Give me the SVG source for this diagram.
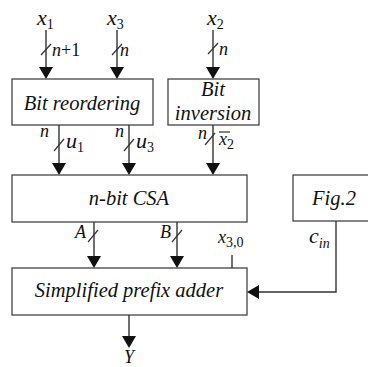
<svg xmlns="http://www.w3.org/2000/svg" xmlns:xlink="http://www.w3.org/1999/xlink" width="368" height="367" viewBox="0 0 368 367">
  <defs>
    <!-- downward arrowhead, tip at the origin -->
    <path id="ah" d="M-7,-12 L7,-12 L0,0 z" fill="#111111"/>
  </defs>
  <rect width="368" height="367" fill="#ffffff"/>

  <!-- blocks: white boxes with italic serif captions -->
  <g id="reorder">
    <rect x="12" y="79" width="141" height="46" fill="#ffffff" stroke="#444444" stroke-width="1.3"/>
    <text x="82" y="110" text-anchor="middle" font-family="Liberation Serif" font-style="italic" font-size="20.5" fill="#111111">Bit reordering</text>
  </g>
  <g id="inversion">
    <rect x="168" y="79" width="91" height="46" fill="#ffffff" stroke="#444444" stroke-width="1.3"/>
    <text x="213" y="96" text-anchor="middle" font-family="Liberation Serif" font-style="italic" font-size="20.5" fill="#111111">Bit</text>
    <text x="213" y="120" text-anchor="middle" font-family="Liberation Serif" font-style="italic" font-size="20.5" fill="#111111">inversion</text>
  </g>
  <g id="csa">
    <rect x="12" y="175" width="235" height="47" fill="#ffffff" stroke="#444444" stroke-width="1.3"/>
    <text x="129" y="205" text-anchor="middle" font-family="Liberation Serif" font-style="italic" font-size="20.5" fill="#111111">n-bit CSA</text>
  </g>
  <g id="fig2">
    <rect x="293" y="175" width="80" height="46" fill="#ffffff" stroke="#444444" stroke-width="1.3"/>
    <text x="334" y="205" text-anchor="middle" font-family="Liberation Serif" font-style="italic" font-size="20.5" fill="#111111">Fig.2</text>
  </g>
  <g id="adder">
    <rect x="12" y="268" width="235" height="47" fill="#ffffff" stroke="#444444" stroke-width="1.3"/>
    <text x="129" y="297" text-anchor="middle" font-family="Liberation Serif" font-style="italic" font-size="20.5" fill="#111111">Simplified prefix adder</text>
  </g>

  <!-- connectors -->
  <g id="connectors" fill="none" stroke="#333333" stroke-width="1.4">
    <!-- inputs -->
    <line x1="46" y1="30" x2="46" y2="70"/>
    <line x1="117" y1="30" x2="117" y2="70"/>
    <line x1="213" y1="30" x2="213" y2="70"/>
    <line x1="41" y1="55" x2="51" y2="44" stroke-width="1.2"/>
    <line x1="112" y1="55" x2="122" y2="44" stroke-width="1.2"/>
    <line x1="208" y1="54" x2="218" y2="43" stroke-width="1.2"/>

    <!-- into CSA -->
    <line x1="59" y1="125" x2="59" y2="166"/>
    <line x1="129" y1="125" x2="129" y2="166"/>
    <line x1="213" y1="125" x2="213" y2="166"/>
    <line x1="54" y1="151" x2="64" y2="139" stroke-width="1.2"/>
    <line x1="124" y1="151" x2="134" y2="139" stroke-width="1.2"/>
    <line x1="205" y1="145" x2="215" y2="133" stroke-width="1.2"/>

    <!-- into adder -->
    <line x1="94" y1="222" x2="94" y2="259"/>
    <line x1="177" y1="222" x2="177" y2="259"/>
    <line x1="88" y1="242" x2="98" y2="230" stroke-width="1.2"/>
    <line x1="172" y1="242" x2="182" y2="230" stroke-width="1.2"/>
    <line x1="232" y1="255" x2="232" y2="268"/>
    <polyline points="336,221 336,292 256,292"/>

    <!-- output -->
    <line x1="129" y1="315" x2="129" y2="339"/>

    <!-- arrowheads -->
    <g stroke="none">
      <use xlink:href="#ah" href="#ah" x="46" y="79"/>
      <use xlink:href="#ah" href="#ah" x="117" y="79"/>
      <use xlink:href="#ah" href="#ah" x="213" y="79"/>
      <use xlink:href="#ah" href="#ah" x="59" y="175"/>
      <use xlink:href="#ah" href="#ah" x="129" y="175"/>
      <use xlink:href="#ah" href="#ah" x="213" y="175"/>
      <use xlink:href="#ah" href="#ah" x="94" y="268"/>
      <use xlink:href="#ah" href="#ah" x="177" y="268"/>
      <use xlink:href="#ah" href="#ah" x="129" y="348"/>
      <path d="M259,285 L259,299 L247,292 z" fill="#111111"/>
    </g>
  </g>

  <!-- signal labels -->
  <g id="labels" font-family="Liberation Serif" font-style="italic" fill="#111111">
    <text x="37" y="25" font-size="22">x<tspan font-size="14" font-style="normal" dy="4">1</tspan></text>
    <text x="107" y="25" font-size="22">x<tspan font-size="14" font-style="normal" dy="4">3</tspan></text>
    <text x="207" y="25" font-size="22">x<tspan font-size="14" font-style="normal" dy="4">2</tspan></text>

    <text x="52" y="56" font-size="18">n<tspan font-style="normal">+1</tspan></text>
    <text x="120" y="56" font-size="18">n</text>
    <text x="219" y="55" font-size="18">n</text>

    <text x="40" y="137" font-size="18">n</text>
    <text x="66" y="148" font-size="22">u<tspan font-size="14" font-style="normal" dy="4">1</tspan></text>
    <text x="115" y="137" font-size="18">n</text>
    <text x="136" y="148" font-size="22">u<tspan font-size="14" font-style="normal" dy="4">3</tspan></text>
    <text x="198" y="139" font-size="18">n</text>
    <text x="219" y="145" font-size="18">x<tspan font-size="14" font-style="normal" dy="4">2</tspan></text>
    <line x1="219" y1="132" x2="230" y2="132" stroke="#333333" stroke-width="1.2"/>

    <text x="75" y="238" font-size="18">A</text>
    <text x="160" y="238" font-size="18">B</text>
    <text x="218" y="243" font-size="18">x<tspan font-size="14" font-style="normal" dy="4">3,0</tspan></text>
    <text x="309" y="243" font-size="22">c<tspan font-size="14" dy="5">in</tspan></text>

    <text x="129" y="363" font-size="18" text-anchor="middle">Y</text>
  </g>
</svg>
